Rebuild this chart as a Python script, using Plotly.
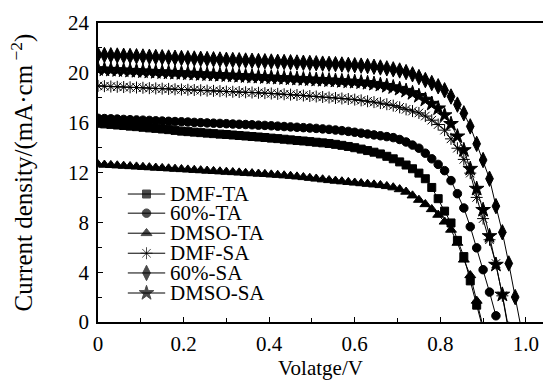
import plotly.graph_objects as go

# ---------------- data ----------------
voltage = [
    0, 0.015, 0.03, 0.045, 0.06, 0.075, 0.09, 0.105, 0.12, 0.135,
    0.15, 0.165, 0.18, 0.195, 0.21, 0.225, 0.24, 0.255, 0.27, 0.285,
    0.3, 0.315, 0.33, 0.345, 0.36, 0.375, 0.39, 0.405, 0.42, 0.435,
    0.45, 0.465, 0.48, 0.495, 0.51, 0.525, 0.54, 0.555, 0.57, 0.585,
    0.6, 0.615, 0.63, 0.645, 0.66, 0.675, 0.69, 0.705, 0.72, 0.735,
    0.75, 0.765, 0.78, 0.795, 0.81, 0.825, 0.84, 0.855, 0.87, 0.885,
    0.9, 0.915, 0.93, 0.945, 0.96, 0.975, 0.99,
]

dmf_ta = [
    15.95, 15.9, 15.86, 15.81, 15.77, 15.72, 15.68, 15.63, 15.58, 15.54,
    15.49, 15.44, 15.38, 15.32, 15.28, 15.24, 15.2, 15.16, 15.12, 15.08,
    15.05, 15.01, 14.97, 14.93, 14.89, 14.85, 14.81, 14.76, 14.72, 14.67,
    14.62, 14.57, 14.53, 14.48, 14.43, 14.38, 14.33, 14.26, 14.18, 14.09,
    13.99, 13.88, 13.76, 13.63, 13.49, 13.3, 13.1, 12.85, 12.6, 12.3,
    11.95, 11.5, 10.8, 9.9, 8.9, 7.95, 6.55, 5.25, 3.3, 1.35,
    -0.6,
]
p60_ta = [
    16.35, 16.33, 16.31, 16.29, 16.26, 16.24, 16.22, 16.2, 16.18, 16.15,
    16.13, 16.11, 16.09, 16.07, 16.05, 16.02, 16.0, 15.98, 15.96, 15.94,
    15.92, 15.89, 15.87, 15.85, 15.83, 15.8, 15.78, 15.75, 15.72, 15.69,
    15.66, 15.63, 15.6, 15.57, 15.54, 15.5, 15.46, 15.41, 15.36, 15.3,
    15.23, 15.16, 15.09, 15.02, 14.95, 14.88, 14.8, 14.65, 14.45, 14.2,
    13.95, 13.55, 13.1, 12.65, 12.15, 11.35, 10.3, 9.15, 7.65, 5.95,
    4.2, 2.4, 0.5,
]
dmso_ta = [
    12.65, 12.62, 12.59, 12.56, 12.53, 12.5, 12.47, 12.44, 12.41, 12.38,
    12.35, 12.32, 12.29, 12.26, 12.23, 12.2, 12.17, 12.14, 12.11, 12.08,
    12.05, 12.02, 11.99, 11.96, 11.93, 11.9, 11.87, 11.83, 11.8, 11.76,
    11.72, 11.67, 11.62, 11.56, 11.5, 11.44, 11.38, 11.33, 11.28, 11.23,
    11.18, 11.13, 11.08, 11.03, 10.98, 10.9, 10.8, 10.65, 10.45, 10.15,
    9.8, 9.45, 9.05, 8.6, 8.05, 7.4, 6.35, 5.0, 3.75, 1.7,
    -0.4,
]
dmf_sa = [
    18.95, 18.93, 18.9, 18.88, 18.86, 18.84, 18.82, 18.8, 18.77, 18.75,
    18.73, 18.71, 18.68, 18.66, 18.64, 18.62, 18.6, 18.57, 18.55, 18.53,
    18.5, 18.48, 18.46, 18.44, 18.42, 18.4, 18.37, 18.34, 18.31, 18.28,
    18.25, 18.22, 18.18, 18.14, 18.1, 18.06, 18.02, 17.98, 17.94, 17.9,
    17.85, 17.79, 17.72, 17.65, 17.57, 17.48, 17.37, 17.23, 17.07, 16.93,
    16.78, 16.53, 16.2, 15.85, 15.4, 14.7, 13.95, 13.05, 11.95, 10.0,
    8.3, 6.6, 4.7, 2.1, -0.8,
]
p60_sa = [
    21.45, 21.43, 21.41, 21.39, 21.37, 21.35, 21.33, 21.31, 21.29, 21.27,
    21.25, 21.23, 21.21, 21.19, 21.17, 21.15, 21.13, 21.11, 21.09, 21.07,
    21.05, 21.03, 21.01, 20.99, 20.97, 20.95, 20.93, 20.91, 20.89, 20.87,
    20.85, 20.83, 20.81, 20.79, 20.77, 20.74, 20.72, 20.7, 20.67, 20.64,
    20.61, 20.58, 20.54, 20.49, 20.43, 20.36, 20.28, 20.19, 20.06, 19.88,
    19.66, 19.42, 19.18, 18.92, 18.6, 18.1, 17.45, 16.75, 15.7, 14.3,
    13.0, 11.5, 9.3, 7.2, 4.7, 2.0, -0.7,
]
dmso_sa = [
    20.3, 20.27, 20.25, 20.22, 20.2, 20.17, 20.15, 20.12, 20.1, 20.07,
    20.05, 20.02, 20.0, 19.98, 19.95, 19.93, 19.9, 19.88, 19.85, 19.83,
    19.8, 19.78, 19.75, 19.73, 19.7, 19.68, 19.65, 19.63, 19.6, 19.58,
    19.55, 19.53, 19.5, 19.48, 19.45, 19.43, 19.4, 19.37, 19.34, 19.31,
    19.28, 19.24, 19.19, 19.12, 19.04, 18.95, 18.85, 18.72, 18.56, 18.38,
    18.15, 17.85, 17.52, 17.15, 16.6, 15.9, 14.9, 13.8, 12.3, 10.7,
    9.0, 6.9, 4.6, 2.2, -0.6,
]

series_names = ["DMF-TA", "60%-TA", "DMSO-TA", "DMF-SA", "60%-SA", "DMSO-SA"]
series_values = [dmf_ta, p60_ta, dmso_ta, dmf_sa, p60_sa, dmso_sa]

x_tick_vals = [0, 0.2, 0.4, 0.6, 0.8, 1.0]
x_tick_text = ["0", "0.2", "0.4", "0.6", "0.8", "1.0"]
y_tick_vals = [0, 4, 8, 12, 16, 20, 24]
y_tick_text = ["0", "4", "8", "12", "16", "20", "24"]

# ---------------- styling ----------------
FONT = "Liberation Serif"
symbols = ["square", "circle", "triangle-up", "asterisk-open", "diamond-tall", "star"]
sizes = [8, 8.5, 9.5, 10, 11, 11]

fig = go.Figure()

for name, vals, sym, sz in zip(series_names, series_values, symbols, sizes):
    fig.add_trace(go.Scatter(
        x=voltage[:len(vals)], y=vals, name=name, mode="lines+markers",
        line=dict(color="black", width=1),
        marker=dict(symbol=sym, size=sz, color="black",
                    line=dict(color="black", width=1)),
        showlegend=False,
    ))

# hand-made legend (tighter row spacing than plotly's legend)
leg_x0, leg_xm, leg_x1 = 0.067, 0.109, 0.151
leg_text_x = 0.158
leg_rows = [0.428, 0.364, 0.297, 0.230, 0.164, 0.097]
for name, sym, sz, ry in zip(series_names, symbols, sizes, leg_rows):
    fig.add_trace(go.Scatter(
        x=[leg_x0, leg_xm, leg_x1], y=[ry, ry, ry], mode="lines+markers",
        xaxis="x2", yaxis="y2",
        line=dict(color="black", width=1),
        marker=dict(symbol=sym, size=[0, sz, 0], color="black",
                    line=dict(color="black", width=1)),
        showlegend=False, hoverinfo="skip",
    ))
    fig.add_annotation(
        x=leg_text_x, y=ry, xref="paper", yref="paper",
        text=name, showarrow=False, xanchor="left", yanchor="middle",
        font=dict(family=FONT, size=21, color="black"),
    )

axis_common = dict(
    showline=True, linecolor="black", linewidth=1.5,
    ticks="inside", ticklen=5, tickwidth=1.2, tickcolor="black",
    showgrid=False, zeroline=False, automargin=False,
    tickfont=dict(family=FONT, size=21, color="black"),
)

fig.update_layout(
    width=543, height=380,
    margin=dict(l=98, r=0, t=23, b=58),
    paper_bgcolor="white", plot_bgcolor="white",
    font=dict(family=FONT, color="black"),
    xaxis=dict(
        range=[0, 1.04], tickvals=x_tick_vals, ticktext=x_tick_text, mirror=True,
        minor=dict(dtick=0.1, ticks="inside", ticklen=4, tickcolor="black", tickwidth=1.2),
        title=dict(text="Volatge/V", font=dict(family=FONT, size=21), standoff=11),
        ticklabelstandoff=2,
        **axis_common,
    ),
    yaxis=dict(
        range=[0, 24], tickvals=y_tick_vals, ticktext=y_tick_text, mirror=False,
        minor=dict(dtick=2, ticks="inside", ticklen=4, tickcolor="black", tickwidth=1.2),
        title=dict(text="Current density/(mA·cm<sup> −2</sup>)",
                   font=dict(family=FONT, size=25), standoff=28),
        ticklabelstandoff=3,
        **axis_common,
    ),
    xaxis2=dict(overlaying="x", range=[0, 1], visible=False),
    yaxis2=dict(overlaying="y", range=[0, 1], visible=False),
    showlegend=False,
)

fig.write_html(
    "out.html",
    config={"displayModeBar": False},
    post_script="document.body.style.margin='0';document.body.style.overflow='hidden';",
)
